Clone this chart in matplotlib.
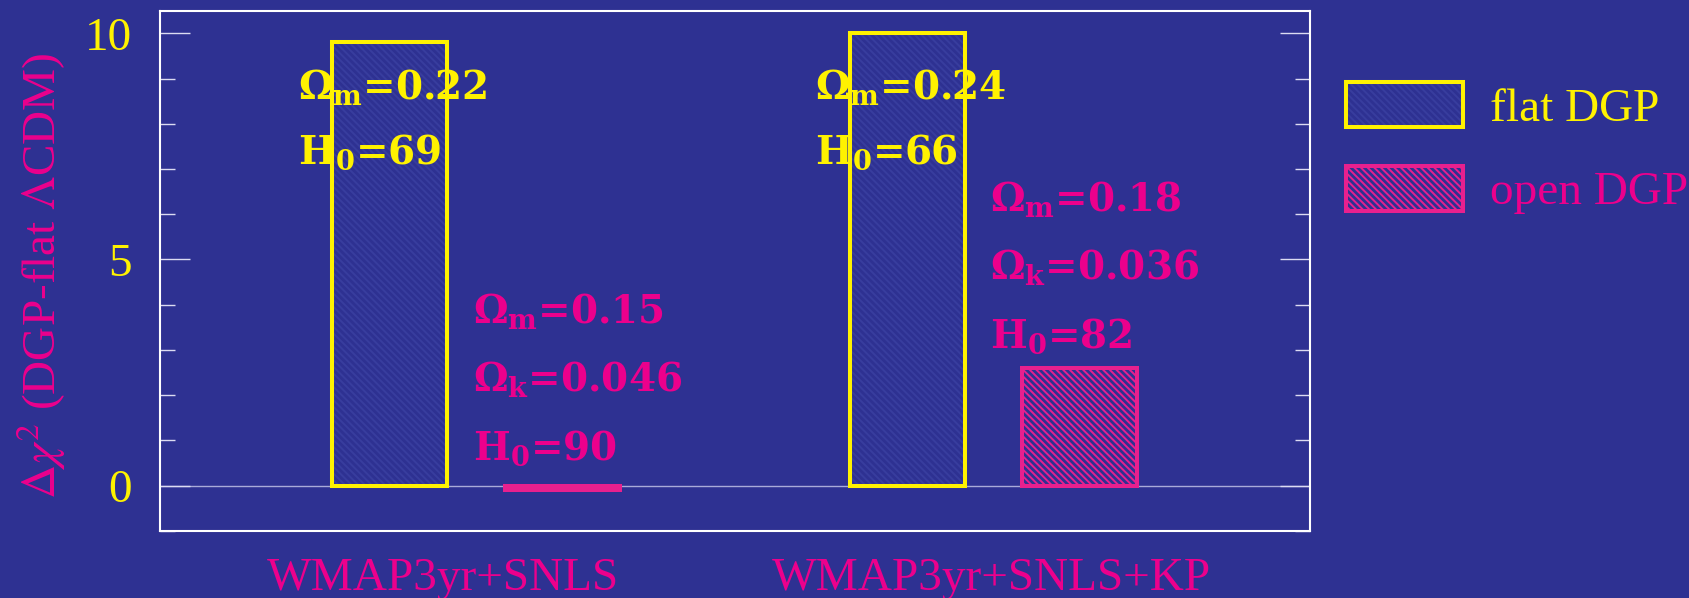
import matplotlib
matplotlib.use("Agg")
import matplotlib.pyplot as plt
from matplotlib.ticker import MultipleLocator
from matplotlib.legend_handler import HandlerTuple
import matplotlib.patches as mpatches

# delta chi^2 of the DGP fits relative to flat LCDM
datasets = ["WMAP3yr+SNLS", "WMAP3yr+SNLS+KP"]
flat_dchi2 = [9.8, 10.0]
open_dchi2 = [-0.1, 2.6]

# best-fit parameters quoted next to each bar
flat_omega_m = ["0.22", "0.24"]
flat_h0 = ["69", "66"]
open_omega_m = ["0.15", "0.18"]
open_omega_k = ["0.046", "0.036"]
open_h0 = ["90", "82"]

BG = "#2e3192"
YELLOW = "#fff200"
PINK = "#ec008c"
BAR_PINK = "#e8208e"
FAINT = "#383d9e"
SERIF = "Liberation Serif"
HATCH = "\\\\\\\\\\"

plt.rcParams["hatch.linewidth"] = 1.4

fig = plt.figure(figsize=(16.89, 5.98), dpi=100, facecolor=BG)
ax = fig.add_axes([0.0946, 0.1125, 0.6808, 0.8695], facecolor=BG)

centers = [2.75, 7.25]
offset = 0.75
width = 1.0
flat_x = [c - offset for c in centers]
open_x = [c + offset for c in centers]

ax.axhline(0, color="#a9abd9", lw=1.0, zorder=1)

# flat DGP: faint hatch inside a yellow outline
ax.bar(flat_x, flat_dchi2, width, color=BG, edgecolor=FAINT, hatch=HATCH, lw=0, zorder=2)
ax.bar(flat_x, flat_dchi2, width, fill=False, edgecolor=YELLOW, lw=2.9, zorder=3)
# open DGP: dense pink hatch
ax.bar(open_x, open_dchi2, width, color=BG, edgecolor=BAR_PINK, hatch=HATCH, lw=2.9, zorder=3)

ax.set_xlim(0, 10)
ax.set_ylim(-1, 10.5)

for s in ax.spines.values():
    s.set_color("white")
    s.set_linewidth(1.5)

ax.yaxis.set_major_locator(MultipleLocator(5))
ax.yaxis.set_minor_locator(MultipleLocator(1))
ax.tick_params(axis="y", which="both", direction="in", left=True, right=True,
               color="#dcdcf2", width=1.0, labelcolor=YELLOW, labelsize=34, pad=20)
ax.tick_params(axis="y", which="major", length=21.6)
ax.tick_params(axis="y", which="minor", length=10.8)
for lab in ax.get_yticklabels():
    lab.set_family(SERIF)

ax.set_xticks([2.46, 7.23])
ax.set_xticklabels(datasets, family=SERIF, fontsize=34, color=PINK)
ax.tick_params(axis="x", length=0, pad=19)

fig.text(41 / 1689, 1 - 276 / 598, r"$\Delta\chi^2$ (DGP-flat $\Lambda$CDM)",
         rotation=90, ha="center", va="center", color=PINK, fontsize=34,
         family=SERIF, math_fontfamily="stix")

ann = dict(fontsize=28, fontweight="bold", family="DejaVu Serif",
           math_fontfamily="dejavuserif", va="baseline", ha="left", zorder=5)

for i, c in enumerate(centers):
    fx = c - 1.55
    ax.text(fx, 8.54, "Ω$_\\mathbf{m}$=" + flat_omega_m[i], color=YELLOW, **ann)
    ax.text(fx, 7.11, "H$_\\mathbf{0}$=" + flat_h0[i], color=YELLOW, **ann)

open_text_y = [3.6, 6.07]
for i, c in enumerate(centers):
    ox = c - 0.03
    y0 = open_text_y[i]
    ax.text(ox, y0, "Ω$_\\mathbf{m}$=" + open_omega_m[i], color=PINK, **ann)
    ax.text(ox, y0 - 1.5, "Ω$_\\mathbf{k}$=" + open_omega_k[i], color=PINK, **ann)
    ax.text(ox, y0 - 3.03, "H$_\\mathbf{0}$=" + open_h0[i], color=PINK, **ann)

# legend handles
flat_fill = mpatches.Patch(facecolor=BG, edgecolor=FAINT, hatch=HATCH, lw=0)
flat_edge = mpatches.Patch(fill=False, edgecolor=YELLOW, lw=2.9)
open_h = mpatches.Patch(facecolor=BG, edgecolor=BAR_PINK, hatch=HATCH, lw=2.9)
leg = fig.legend([(flat_fill, flat_edge), open_h], ["flat DGP", "open DGP"],
                 handler_map={tuple: HandlerTuple(ndivide=1)},
                 loc="upper left", bbox_to_anchor=(1346 / 1689, 1 - 82 / 598),
                 frameon=False, borderpad=0, borderaxespad=0,
                 handlelength=2.48, handleheight=1.1, handletextpad=0.57,
                 labelspacing=0.74, prop={"family": SERIF, "size": 34})
leg.get_texts()[0].set_color(YELLOW)
leg.get_texts()[1].set_color(PINK)

fig.savefig("out.png", dpi=100, facecolor=BG)
